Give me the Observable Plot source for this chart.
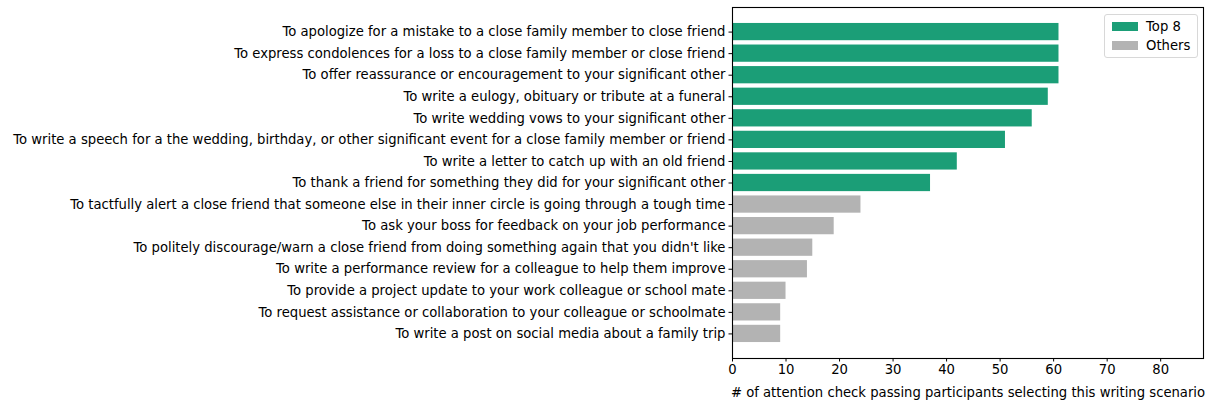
<!DOCTYPE html>
<html>
<head>
<meta charset="utf-8">
<script src="https://cdn.jsdelivr.net/npm/d3@7"></script>
<script src="https://cdn.jsdelivr.net/npm/@observablehq/plot@0.6"></script>
<style>
  html, body { margin: 0; padding: 0; background: #fff; overflow: hidden; }
  #wrap { position: relative; width: 1208px; height: 403px; font-family: "DejaVu Sans", sans-serif; }
  #wrap svg { display: block; position: absolute; left: 0; top: 0; }
  #legend { position: absolute; left: 1104px; top: 14px; width: 92px; height: 42px; border: 1px solid #d8d8d8; border-radius: 3px; background: #fff; font-size: 13.2px; }
  .row { position: absolute; left: 7px; display: flex; align-items: center; }
  .sw { width: 26px; height: 9px; margin-right: 8px; }
</style>
</head>
<body>
<div id="wrap"><div id="legend"></div></div>
<script>
const scenarios = [
  "To apologize for a mistake to a close family member to close friend",
  "To express condolences for a loss to a close family member or close friend",
  "To offer reassurance or encouragement to your significant other",
  "To write a eulogy, obituary or tribute at a funeral",
  "To write wedding vows to your significant other",
  "To write a speech for a the wedding, birthday, or other significant event for a close family member or friend",
  "To write a letter to catch up with an old friend",
  "To thank a friend for something they did for your significant other",
  "To tactfully alert a close friend that someone else in their inner circle is going through a tough time",
  "To ask your boss for feedback on your job performance",
  "To politely discourage/warn a close friend from doing something again that you didn't like",
  "To write a performance review for a colleague to help them improve",
  "To provide a project update to your work colleague or school mate",
  "To request assistance or collaboration to your colleague or schoolmate",
  "To write a post on social media about a family trip"
];
const counts = [61, 61, 61, 59, 56, 51, 42, 37, 24, 19, 15, 14, 10, 9, 9];
const groups = ["Top 8", "Top 8", "Top 8", "Top 8", "Top 8", "Top 8", "Top 8", "Top 8",
  "Others", "Others", "Others", "Others", "Others", "Others", "Others"];
const groupNames = ["Top 8", "Others"];
const groupColors = ["#1b9e77", "#b3b3b3"];
const xTicks = [0, 10, 20, 30, 40, 50, 60, 70, 80];
const xLabel = "# of attention check passing participants selecting this writing scenario";

const data = scenarios.map((s, i) => ({scenario: s, count: counts[i], group: groups[i]}));

const chart = Plot.plot({
  width: 1208,
  height: 403,
  marginLeft: 732,
  marginRight: 5,
  marginTop: 7,
  marginBottom: 45,
  style: {fontFamily: "DejaVu Sans, sans-serif", fontSize: "13.2px", color: "#000", background: "#fff"},
  x: {domain: [0, 88]},
  y: {domain: scenarios, paddingInner: 0.2, paddingOuter: 0.74, align: 0.5, round: false},
  color: {domain: groupNames, range: groupColors},
  marks: [
    Plot.barX(data, {x: "count", y: "scenario", fill: "group"}),
    Plot.frame({stroke: "#000", strokeWidth: 1.1}),
    Plot.axisY({tickSize: 3.5, tickPadding: 3.5, label: null, fontSize: "13.2px"}),
    Plot.axisX({ticks: xTicks, tickSize: 3.5, tickPadding: 3, tickFormat: d => String(d), label: xLabel, labelAnchor: "center", labelArrow: "none", labelOffset: 38, fontSize: "13.2px"})
  ]
});
document.getElementById("wrap").prepend(chart);

const legend = document.getElementById("legend");
groupNames.forEach((g, i) => {
  const row = document.createElement("div");
  row.className = "row";
  row.style.top = (4 + i * 19) + "px";
  row.innerHTML = `<div class="sw" style="background:${groupColors[i]}"></div><span>${g}</span>`;
  legend.appendChild(row);
});
</script>
</body>
</html>
